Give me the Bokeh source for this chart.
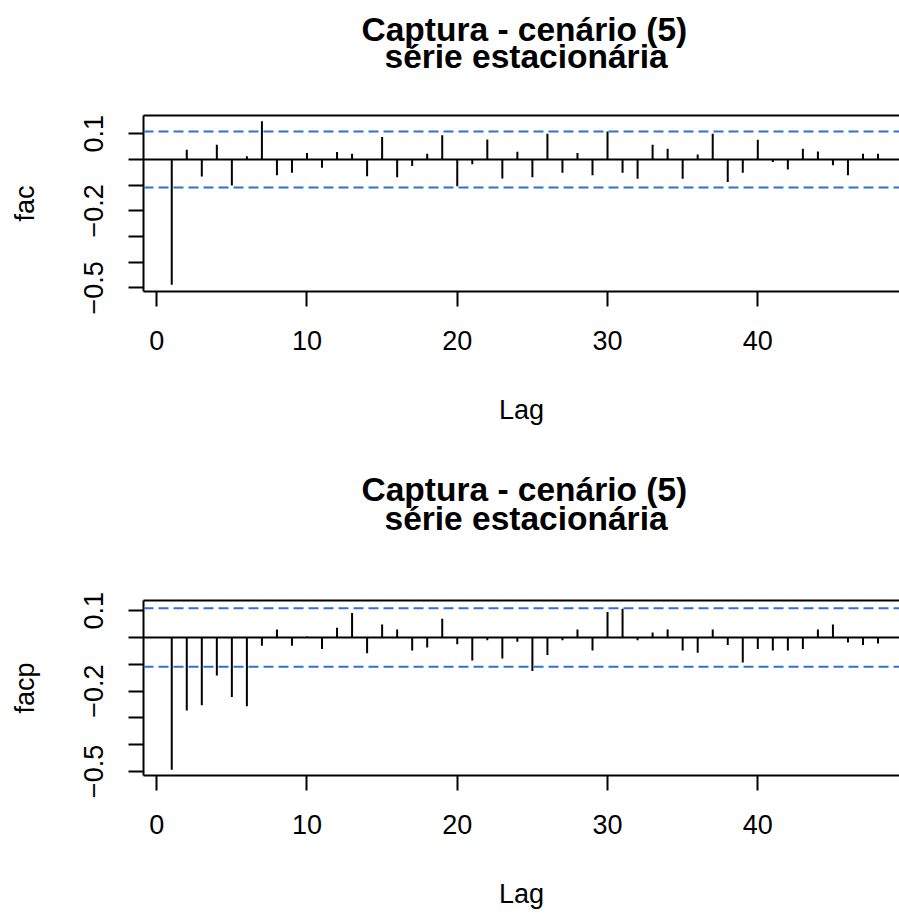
from bokeh.plotting import figure
from bokeh.layouts import column
from bokeh.models import Range1d, FixedTicker, Span, LinearAxis, Title
from bokeh.embed import file_html
from bokeh.resources import INLINE

# Autocorrelation (fac) and partial autocorrelation (facp), lags 1..48
lags = list(range(1, 49))
fac = [-0.488, 0.038, -0.066, 0.057, -0.101, 0.012, 0.149, -0.062, -0.052, 0.025,
       -0.032, 0.029, 0.022, -0.065, 0.087, -0.069, -0.026, 0.022, 0.094, -0.104,
       -0.019, 0.078, -0.074, 0.030, -0.069, 0.100, -0.052, 0.025, -0.062, 0.109,
       -0.052, -0.075, 0.057, 0.042, -0.075, 0.019, 0.100, -0.088, -0.052, 0.077,
       -0.010, -0.039, 0.042, 0.031, -0.023, -0.062, 0.022, 0.022]
facp = [-0.494, -0.272, -0.253, -0.142, -0.222, -0.257, -0.031, 0.030, -0.031, 0.004,
        -0.043, 0.036, 0.091, -0.059, 0.048, 0.030, -0.049, -0.037, 0.070, -0.025,
        -0.086, -0.010, -0.078, -0.016, -0.125, -0.065, -0.010, 0.030, -0.049, 0.095,
        0.107, -0.010, 0.019, 0.030, -0.049, -0.057, 0.030, -0.028, -0.093, -0.043,
        -0.049, -0.049, -0.043, 0.030, 0.048, -0.019, -0.028, -0.022]
conf = 0.109  # approx. 95% band

title_line1 = "Captura - cenário (5)"
title_line2 = "série estacionária"
x_ticks = [0, 10, 20, 30, 40]
y_labeled = [0.1, -0.2, -0.5]
y_unlabeled = [0.0, -0.1, -0.3, -0.4]

FONT = "Liberation Sans"
BLUE = "#2F6FD6"


def style_title(t, text, standoff, offset):
    t.text = text
    t.align = "left"
    t.offset = offset
    t.text_font = FONT
    t.text_font_style = "bold"
    t.text_font_size = "33.5px"
    t.text_color = "black"
    t.standoff = standoff


def acf_panel(values, ylabel, height, top, bottom, y_lo, y_hi, gap, s1):
    p = figure(width=899, height=height, output_backend="svg", toolbar_location=None,
               x_range=Range1d(-0.88, 49.43), y_range=Range1d(y_lo, y_hi),
               min_border_left=143, min_border_right=0,
               min_border_top=top, min_border_bottom=bottom,
               x_axis_label="Lag", y_axis_label=ylabel)
    p.outline_line_color = None
    p.background_fill_color = "white"
    p.border_fill_color = "white"
    p.grid.visible = False

    for ax in (p.xaxis[0], p.yaxis[0]):
        ax.axis_line_width = 2
        ax.axis_line_color = "black"
        ax.major_tick_line_width = 2
        ax.minor_tick_line_width = 2
        ax.major_tick_line_color = "black"
        ax.minor_tick_line_color = "black"
        ax.major_tick_in = 0
        ax.major_tick_out = 15
        ax.minor_tick_in = 0
        ax.minor_tick_out = 15
        ax.major_label_text_font = FONT
        ax.major_label_text_font_size = "27px"
        ax.major_label_text_color = "black"
        ax.axis_label_text_font = FONT
        ax.axis_label_text_font_size = "27px"
        ax.axis_label_text_font_style = "normal"
        ax.axis_label_text_color = "black"

    p.xaxis[0].ticker = FixedTicker(ticks=x_ticks, minor_ticks=[])
    p.xaxis[0].major_label_standoff = 24
    p.xaxis[0].axis_label_standoff = 42

    p.yaxis[0].ticker = FixedTicker(ticks=y_labeled, minor_ticks=y_unlabeled)
    p.yaxis[0].major_label_orientation = "vertical"
    p.yaxis[0].major_label_standoff = 25
    p.yaxis[0].axis_label_standoff = 42

    # top edge of the plot box; a blank axis label reserves the space under the heading
    top_axis = LinearAxis(ticker=FixedTicker(ticks=[]), major_label_text_font_size="0px",
                          axis_line_width=2, axis_line_color="black",
                          major_label_standoff=0, axis_label=" ",
                          axis_label_text_font_size="1px", axis_label_standoff=gap)
    top_axis.major_tick_out = 0
    top_axis.minor_tick_out = 0
    p.add_layout(top_axis, "above")

    # two-line heading: the second line sits nearer the box
    sub = Title()
    style_title(sub, title_line2, 0, 241)
    p.add_layout(sub, "above")
    style_title(p.title, title_line1, s1, 218)

    p.add_layout(Span(location=0, dimension="width", line_color="black", line_width=2))
    for c in (conf, -conf):
        p.add_layout(Span(location=c, dimension="width", line_color=BLUE,
                          line_width=2, line_dash="10 5"))

    p.segment(x0=lags, y0=[0] * len(lags), x1=lags, y1=values,
              line_color="black", line_width=2)
    return p


p1 = acf_panel(fac, "fac", 460, 115, 169, -0.514, 0.171, 37, -24)
p2 = acf_panel(facp, "facp", 455, 140, 140, -0.515, 0.138, 60, -20)

layout = column(p1, p2, spacing=0)
open("out.html", "w").write(file_html(layout, INLINE))
